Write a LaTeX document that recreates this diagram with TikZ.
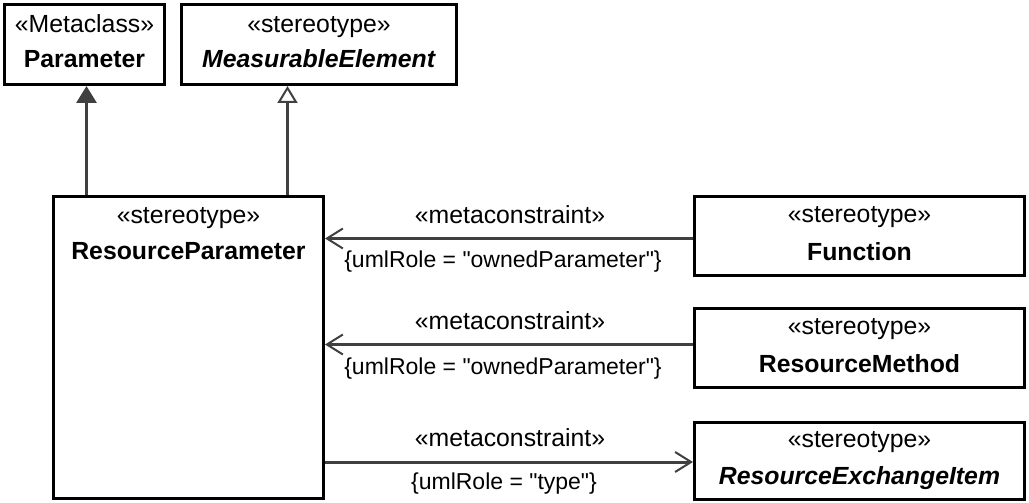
\documentclass[tikz,border=0pt]{standalone}
\usepackage{fontspec}
\setmainfont{Liberation Sans}
\usetikzlibrary{arrows.meta}
\begin{document}
\begin{tikzpicture}[x=1pt,y=-1pt,
  box/.style={draw=black,line width=3pt,fill=white,inner sep=0pt,anchor=north west},
  txt/.style={anchor=base,inner sep=0pt,font=\fontsize{24.8}{28}\selectfont},
  ctxt/.style={anchor=base,inner sep=0pt,font=\fontsize{23}{27}\selectfont},
  conn/.style={draw=black!75,line width=3pt},
  gen/.style={conn,-{Triangle[open,length=17pt,width=20pt,line width=2pt]}},
  ext/.style={conn,-{Triangle[length=17pt,width=20pt]}},
  dep/.style={conn,-{Straight Barb[length=16pt,width=20pt,line width=2pt]}}]
\useasboundingbox (0,0) rectangle (1029,503);
% boxes
\node[box,minimum width=160pt,minimum height=80pt] (param) at (3,3) {};
\node[box,minimum width=275pt,minimum height=80pt] (ME) at (180,3) {};
\node[box,minimum width=270pt,minimum height=302pt] (RP) at (52,195) {};
\node[box,minimum width=330pt,minimum height=79pt] (Func) at (693,195) {};
\node[box,minimum width=330pt,minimum height=79pt] (RM) at (693,307) {};
\node[box,minimum width=330pt,minimum height=77pt] (REI) at (693,421) {};
% box texts
\node[txt] (paramS) at ([yshift=-30pt]param.north) {«Metaclass»};
\node[txt] (paramN) at ([yshift=-65pt]param.north) {\textbf{Parameter}};
\node[txt] (MES) at ([yshift=-30pt]ME.north) {«stereotype»};
\node[txt] (MEN) at ([yshift=-65pt]ME.north) {\textbf{\textit{MeasurableElement}}};
\node[txt] (RPS) at ([yshift=-28pt]RP.north) {«stereotype»};
\node[txt] (RPN) at ([yshift=-64pt]RP.north) {\textbf{ResourceParameter}};
\node[txt] (FuncS) at ([yshift=-27pt]Func.north) {«stereotype»};
\node[txt] (FuncN) at ([yshift=-65pt]Func.north) {\textbf{Function}};
\node[txt] (RMS) at ([yshift=-27pt]RM.north) {«stereotype»};
\node[txt] (RMN) at ([yshift=-65pt]RM.north) {\textbf{ResourceMethod}};
\node[txt] (REIS) at ([yshift=-26pt]REI.north) {«stereotype»};
\node[txt] (REIN) at ([yshift=-63pt]REI.north) {\textbf{\textit{ResourceExchangeItem}}};
% vertical connectors
\coordinate (pA) at ([xshift=2pt]param.south);
\coordinate (mA) at ([xshift=-31.5pt]ME.south);
\draw[ext] (pA |- RP.north) -- (pA);
\draw[gen] (mA |- RP.north) -- (mA);
% horizontal connectors
\coordinate (fA) at ([yshift=-2.5pt]Func.west);
\coordinate (rmA) at ([yshift=3.5pt]RM.west);
\coordinate (reA) at ([yshift=-1pt]REI.west);
\draw[dep] (fA) -- (fA -| RP.east);
\draw[dep] (rmA) -- (rmA -| RP.east);
\draw[dep] (reA -| RP.east) -- (reA);
% labels
\node[txt] (l1a) at (510,223) {«metaconstraint»};
\node[ctxt] (l1b) at (503,267) {\{umlRole = \textquotedbl ownedParameter\textquotedbl\}};
\node[txt] (l2a) at (510,329) {«metaconstraint»};
\node[ctxt] (l2b) at (503,374) {\{umlRole = \textquotedbl ownedParameter\textquotedbl\}};
\node[txt] (l3a) at (510,446) {«metaconstraint»};
\node[ctxt] (l3b) at (504,489) {\{umlRole = \textquotedbl type\textquotedbl\}};
\end{tikzpicture}
\end{document}
